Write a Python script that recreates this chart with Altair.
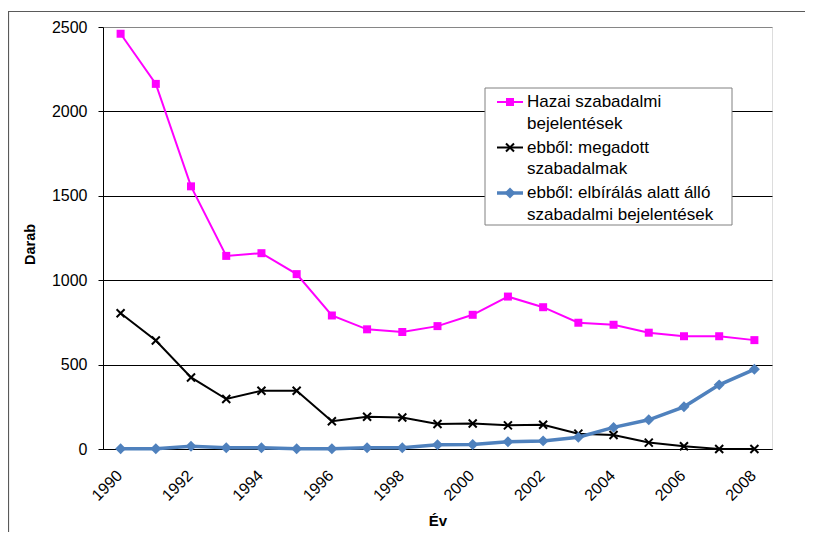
import altair as alt
import pandas as pd

# ---- data -------------------------------------------------------------
years = list(range(1990, 2009))
series_names = [
    "Hazai szabadalmi bejelentések",
    "ebből: megadott szabadalmak",
    "ebből: elbírálás alatt álló szabadalmi bejelentések",
]
legend_labels = [
    "Hazai szabadalmi\nbejelentések",
    "ebből: megadott\nszabadalmak",
    "ebből: elbírálás alatt álló\nszabadalmi bejelentések",
]
hazai = [2460, 2163, 1556, 1144, 1160, 1036, 791, 709, 693, 728,
         795, 903, 840, 748, 736, 689, 668, 668, 645]
megadott = [804, 643, 424, 296, 345, 345, 164, 191, 187, 148,
            151, 140, 144, 91, 83, 38, 16, 0, 0]
elbiralas = [2, 2, 16, 7, 7, 2, 2, 7, 7, 25,
             27, 43, 48, 70, 128, 173, 250, 380, 472]
y_ticks = [0, 500, 1000, 1500, 2000, 2500]
x_title = "Év"
y_title = "Darab"

colors = ["#FF00FF", "#000000", "#4F81BD"]
FONT = "Liberation Sans"

# ---- scales / axes ---------------------------------------------------
x_enc = alt.X(
    "year:O",
    scale=alt.Scale(type="point", padding=0.5),
    axis=alt.Axis(
        title=x_title,
        labelAngle=-45,
        labelExpr="datum.value % 2 == 0 ? datum.label : ''",
        labelOverlap=False,
        ticks=False,
        labelPadding=18,
        labelOffset=-7,
        labelFontSize=16,
        labelColor="#000000",
        labelFont=FONT,
        domainColor="#000000",
        titleFont=FONT,
        titleFontSize=15,
        titleFontWeight="bold",
        titleColor="#000000",
        titleBaseline="alphabetic",
        titleX=334.5,
        titleY=76,
        grid=False,
    ),
)
y_enc = alt.Y(
    "value:Q",
    scale=alt.Scale(domain=[0, 2500], nice=False),
    axis=alt.Axis(
        title=y_title,
        values=y_ticks,
        format="d",
        tickSize=5,
        tickColor="#000000",
        labelPadding=11,
        labelFontSize=16,
        labelFont=FONT,
        labelColor="#000000",
        domainColor="#000000",
        grid=True,
        gridColor={"condition": {"test": "datum.value === 2500", "value": "#868686"},
                   "value": "#000000"},
        gridWidth=1,
        titleFont=FONT,
        titleFontSize=14.5,
        titleFontWeight="bold",
        titleColor="#000000",
        titleBaseline="alphabetic",
        titleAngle=-90,
        titleX=-68.5,
        titleY=217,
    ),
)

def frame_df(vals):
    return pd.DataFrame({"year": years, "value": vals})

one = pd.DataFrame({"k": [0]})

# outer chart frame
frame = alt.Chart(one).mark_rect(fill=None, stroke="#5a5a5a", strokeWidth=1.2).encode(
    x=alt.value(-94.5), x2=alt.value(760), y=alt.value(-15.5), y2=alt.value(600)
)

# ---- series ------------------------------------------------------------
l_hazai = alt.Chart(frame_df(hazai)).mark_line(color=colors[0], strokeWidth=2).encode(x=x_enc, y=y_enc)
p_hazai = alt.Chart(frame_df(hazai)).mark_point(
    shape="square", filled=True, color=colors[0], size=64, opacity=1
).encode(x=x_enc, y=y_enc)

l_meg = alt.Chart(frame_df(megadott)).mark_line(color=colors[1], strokeWidth=2).encode(x=x_enc, y=y_enc)
p_meg = alt.Chart(frame_df(megadott)).mark_point(
    shape="M-1,-1L1,1M-1,1L1,-1", filled=False, stroke=colors[1], strokeWidth=2, size=64, opacity=1
).encode(x=x_enc, y=y_enc)

l_elb = alt.Chart(frame_df(elbiralas)).mark_line(color=colors[2], strokeWidth=3.5).encode(x=x_enc, y=y_enc)
p_elb = alt.Chart(frame_df(elbiralas)).mark_point(
    shape="diamond", filled=True, color=colors[2], size=120, opacity=1
).encode(x=x_enc, y=y_enc)

# ---- legend (drawn box) ----------------------------------------------
leg_box = alt.Chart(one).mark_rect(fill="white", stroke="#808080", strokeWidth=1).encode(
    x=alt.value(382), x2=alt.value(629), y=alt.value(61), y2=alt.value(198)
)
leg_layers = [leg_box]
point_styles = [
    dict(shape="square", filled=True, color=colors[0], size=64),
    dict(shape="M-1,-1L1,1M-1,1L1,-1", filled=False, stroke=colors[1], strokeWidth=2, size=64),
    dict(shape="diamond", filled=True, color=colors[2], size=120),
]
line_w = [2, 2, 3.5]
for i, lab in enumerate(legend_labels):
    sy = 75 + i * 45.5
    leg_layers.append(
        alt.Chart(one).mark_rule(color=colors[i], strokeWidth=line_w[i]).encode(
            x=alt.value(394), x2=alt.value(420), y=alt.value(sy)
        )
    )
    leg_layers.append(
        alt.Chart(one).mark_point(opacity=1, **point_styles[i]).encode(
            x=alt.value(407), y=alt.value(sy)
        )
    )
    leg_layers.append(
        alt.Chart(pd.DataFrame({"label": [lab]})).mark_text(
            align="left", baseline="middle", font=FONT, fontSize=17,
            lineBreak="\n", lineHeight=21.5, color="#000000"
        ).encode(x=alt.value(424), y=alt.value(sy), text="label:N")
    )

chart = alt.layer(
    frame, l_hazai, l_meg, l_elb, p_hazai, p_meg, p_elb, *leg_layers
).properties(
    width=669,
    height=422,
    autosize=alt.AutoSizeParams(type="none"),
    padding={"left": 95, "top": 19, "right": 33, "bottom": 83},
).configure_view(
    stroke="#868686", strokeWidth=1
).configure(background="white")

chart.save("out.html", embed_options={"renderer": "svg", "actions": False})
